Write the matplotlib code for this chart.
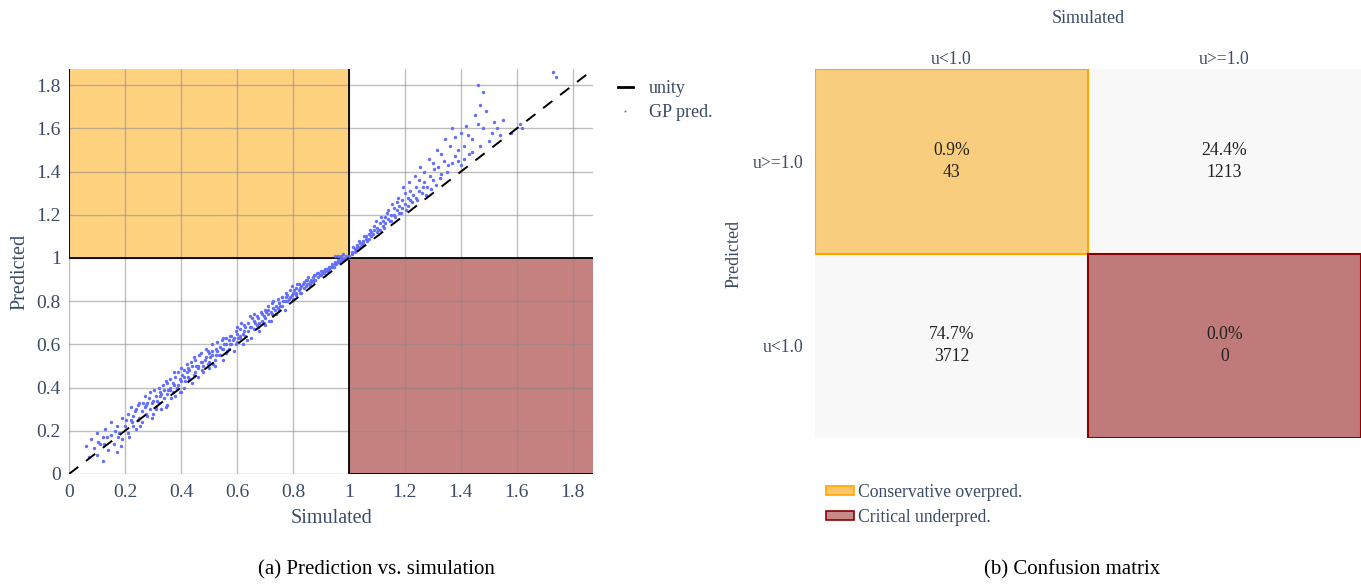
import matplotlib.pyplot as plt
from matplotlib.colors import ListedColormap
from matplotlib.lines import Line2D
from matplotlib.patches import Patch, Rectangle

plt.rcParams['font.family'] = ['Liberation Serif', 'DejaVu Serif']

# GP predictions vs simulated utilisation
sim = [0.06, 0.07, 0.08, 0.09, 0.10, 0.10, 0.11, 0.12, 0.12, 0.13, 0.14, 0.15, 0.15, 0.16, 0.17, 0.17, 0.18, 0.19, 0.19, 0.20,
       0.21, 0.21, 0.22, 0.22, 0.23, 0.23, 0.24, 0.24, 0.25, 0.25, 0.26, 0.26, 0.27, 0.27, 0.28, 0.28, 0.29, 0.29, 0.30, 0.30,
       0.31, 0.31, 0.32, 0.32, 0.33, 0.33, 0.34, 0.34, 0.35, 0.35, 0.35, 0.36, 0.36, 0.37, 0.37, 0.38, 0.38, 0.39, 0.39, 0.40,
       0.40, 0.40,
       0.41, 0.41, 0.42, 0.42, 0.43, 0.43, 0.44, 0.44, 0.45, 0.45, 0.46, 0.46, 0.47, 0.47, 0.48, 0.48, 0.49, 0.49, 0.50, 0.50,
       0.50, 0.51, 0.51, 0.52, 0.52, 0.53, 0.53, 0.54, 0.54, 0.55, 0.55, 0.55, 0.56, 0.56, 0.57, 0.57, 0.58, 0.58, 0.59, 0.59,
       0.60, 0.60, 0.60,
       0.61, 0.61, 0.62, 0.62, 0.63, 0.63, 0.64, 0.64, 0.65, 0.65, 0.66, 0.66, 0.67, 0.67, 0.68, 0.68, 0.69, 0.69, 0.70, 0.70,
       0.70, 0.71, 0.71, 0.72, 0.72, 0.73, 0.73, 0.74, 0.74, 0.75, 0.75, 0.76, 0.76, 0.77, 0.77, 0.78, 0.78, 0.79, 0.79, 0.80,
       0.80,
       0.81, 0.81, 0.82, 0.82, 0.83, 0.83, 0.84, 0.84, 0.85, 0.85, 0.86, 0.86, 0.87, 0.87, 0.88, 0.88, 0.89, 0.89, 0.90, 0.90,
       0.91, 0.91, 0.92, 0.92, 0.93, 0.93, 0.94, 0.94, 0.95, 0.95, 0.96, 0.96, 0.97, 0.97, 0.98, 0.98, 0.99, 0.99, 0.97, 0.96,
       0.98, 0.95,
       1.00, 1.01, 1.01, 1.02, 1.02, 1.03, 1.03, 1.04, 1.04, 1.05, 1.05, 1.06, 1.06, 1.07, 1.07, 1.08, 1.08, 1.09, 1.09, 1.10,
       1.10, 1.11, 1.11, 1.12, 1.12, 1.13, 1.13, 1.14, 1.14, 1.15, 1.15, 1.16, 1.16, 1.17, 1.17, 1.18, 1.18, 1.19, 1.19, 1.20,
       1.20, 1.21, 1.21, 1.22, 1.22, 1.23, 1.24, 1.24, 1.25, 1.25, 1.26, 1.27, 1.27, 1.28, 1.29, 1.30, 1.30, 1.31, 1.32, 1.33,
       1.33, 1.34, 1.35, 1.36, 1.37, 1.38, 1.38, 1.39, 1.40, 1.40, 1.41, 1.42, 1.43, 1.44, 1.45, 1.46, 1.47, 1.48, 1.49, 1.46,
       1.50, 1.52, 1.53, 1.55, 1.58, 1.61, 1.62, 1.73, 1.74,
       0.105, 0.135, 0.165, 0.185, 0.205, 0.215, 0.235, 0.245, 0.255, 0.265, 0.275, 0.285, 0.295, 0.305, 0.315, 0.325,
       0.335, 0.345, 0.355, 0.365, 0.375, 0.385, 0.395, 0.405, 0.415, 0.425, 0.435, 0.445, 0.455, 0.465, 0.475, 0.485,
       0.495, 0.505, 0.515, 0.525, 0.535, 0.545, 0.555, 0.565, 0.575, 0.585, 0.595, 0.605, 0.615, 0.625, 0.635, 0.645,
       0.655, 0.665, 0.675, 0.685, 0.695, 0.705, 0.715, 0.725, 0.735, 0.745, 0.755, 0.765, 0.775, 0.785, 0.795, 0.805,
       0.815, 0.825, 0.835, 0.845, 0.855, 0.865, 0.875, 0.885, 0.895, 0.905, 0.915, 0.925, 0.935, 0.945, 0.955, 0.965,
       0.975, 0.985, 0.995,
       1.015, 1.025, 1.035, 1.045, 1.055, 1.065, 1.075, 1.085, 1.095, 1.105, 1.115, 1.125, 1.135, 1.145, 1.155, 1.165,
       1.175, 1.185, 1.195, 1.205, 1.215, 1.225, 1.235, 1.245, 1.255, 1.265, 1.275, 1.285, 1.295, 1.305, 1.315, 1.325,
       1.345, 1.355, 1.37, 1.39, 1.41, 1.425, 1.44, 1.47, 1.48, 1.51, 1.54,
       0.125, 0.175, 0.225, 0.275, 0.325, 0.375, 0.425, 0.475, 0.525, 0.575, 0.625, 0.675, 0.725, 0.775, 0.825, 0.875,
       0.245, 0.295, 0.345, 0.395, 0.445, 0.495, 0.545, 0.595, 0.645, 0.695, 0.745, 0.795, 0.845,
       0.312, 0.362, 0.412, 0.462, 0.512, 0.562, 0.612, 0.662, 0.712, 0.762, 0.812, 0.862, 0.912]
pred = [0.13, 0.08, 0.16, 0.12, 0.19, 0.09, 0.14, 0.06, 0.17, 0.21, 0.11, 0.18, 0.24, 0.14, 0.22, 0.10, 0.19, 0.26, 0.16, 0.22,
        0.28, 0.19, 0.25, 0.31, 0.22, 0.27, 0.30, 0.21, 0.26, 0.33, 0.29, 0.24, 0.31, 0.36, 0.27, 0.33, 0.30, 0.38, 0.34, 0.28,
        0.36, 0.31, 0.40, 0.33, 0.37, 0.30, 0.39, 0.35, 0.42, 0.37, 0.32, 0.40, 0.44, 0.38, 0.42, 0.36, 0.45, 0.41, 0.47, 0.43,
        0.38, 0.49,
        0.45, 0.40, 0.47, 0.51, 0.44, 0.48, 0.50, 0.42, 0.47, 0.53, 0.49, 0.45, 0.52, 0.56, 0.50, 0.47, 0.54, 0.58, 0.52, 0.49,
        0.56, 0.55, 0.60, 0.53, 0.50, 0.57, 0.61, 0.55, 0.59, 0.53, 0.58, 0.63, 0.60, 0.56, 0.62, 0.58, 0.64, 0.60, 0.57, 0.63,
        0.65, 0.61, 0.68,
        0.63, 0.67, 0.65, 0.60, 0.68, 0.64, 0.70, 0.66, 0.68, 0.63, 0.71, 0.67, 0.73, 0.69, 0.70, 0.66, 0.74, 0.71, 0.76, 0.72,
        0.69, 0.74, 0.78, 0.75, 0.71, 0.77, 0.80, 0.78, 0.74, 0.79, 0.76, 0.82, 0.78, 0.80, 0.76, 0.83, 0.80, 0.82, 0.85, 0.84,
        0.81,
        0.86, 0.83, 0.85, 0.88, 0.87, 0.84, 0.89, 0.86, 0.88, 0.90, 0.89, 0.87, 0.91, 0.89, 0.92, 0.90, 0.93, 0.91, 0.94, 0.92,
        0.94, 0.93, 0.95, 0.94, 0.96, 0.95, 0.97, 0.96, 0.97, 0.98, 0.98, 0.99, 0.99, 1.00, 1.00, 0.99, 1.00, 1.01, 1.01, 1.01,
        1.02, 1.01,
        1.01, 1.02, 1.03, 1.04, 1.03, 1.05, 1.06, 1.07, 1.05, 1.08, 1.07, 1.09, 1.10, 1.11, 1.09, 1.12, 1.10, 1.13, 1.15, 1.14,
        1.12, 1.16, 1.13, 1.17, 1.15, 1.19, 1.16, 1.18, 1.22, 1.20, 1.17, 1.23, 1.20, 1.22, 1.26, 1.24, 1.21, 1.27, 1.23, 1.25,
        1.30, 1.28, 1.24, 1.31, 1.27, 1.29, 1.33, 1.28, 1.36, 1.31, 1.30, 1.35, 1.40, 1.33, 1.38, 1.44, 1.36, 1.34, 1.42, 1.39,
        1.48, 1.45, 1.40, 1.52, 1.44, 1.56, 1.47, 1.50, 1.43, 1.58, 1.52, 1.61, 1.48, 1.55, 1.66, 1.62, 1.71, 1.77, 1.68, 1.80,
        1.54, 1.63, 1.60, 1.64, 1.58, 1.62, 1.60, 1.86, 1.84,
        0.15, 0.17, 0.20, 0.13, 0.25, 0.17, 0.29, 0.25, 0.22, 0.33, 0.28, 0.35, 0.26, 0.39, 0.34, 0.36,
        0.41, 0.31, 0.39, 0.35, 0.47, 0.40, 0.44, 0.46, 0.43, 0.49, 0.52, 0.46, 0.50, 0.55, 0.48, 0.53,
        0.57, 0.54, 0.51, 0.58, 0.55, 0.62, 0.60, 0.57, 0.64, 0.62, 0.66, 0.63, 0.70, 0.66, 0.62, 0.68,
        0.72, 0.70, 0.68, 0.75, 0.73, 0.75, 0.71, 0.79, 0.76, 0.81, 0.78, 0.80, 0.84, 0.81, 0.83, 0.85,
        0.88, 0.86, 0.88, 0.87, 0.91, 0.90, 0.90, 0.93, 0.92, 0.93, 0.95, 0.94, 0.96, 0.96, 0.97, 0.98,
        0.99, 1.00, 1.00,
        1.05, 1.04, 1.08, 1.06, 1.10, 1.08, 1.13, 1.11, 1.17, 1.13, 1.19, 1.14, 1.21, 1.17, 1.25, 1.19,
        1.28, 1.21, 1.33, 1.22, 1.35, 1.26, 1.38, 1.27, 1.42, 1.33, 1.29, 1.46, 1.32, 1.41, 1.50, 1.37,
        1.55, 1.43, 1.60, 1.45, 1.46, 1.57, 1.49, 1.52, 1.60, 1.58, 1.57,
        0.14, 0.17, 0.24, 0.32, 0.38, 0.41, 0.45, 0.52, 0.55, 0.60, 0.69, 0.72, 0.74, 0.82, 0.84, 0.92,
        0.32, 0.33, 0.43, 0.38, 0.54, 0.51, 0.58, 0.60, 0.73, 0.70, 0.77, 0.87, 0.90,
        0.30, 0.39, 0.48, 0.50, 0.57, 0.63, 0.64, 0.74, 0.76, 0.82, 0.84, 0.88, 0.94]

ticks = [0, 0.2, 0.4, 0.6, 0.8, 1, 1.2, 1.4, 1.6, 1.8]
tick_labels = ['0', '0.2', '0.4', '0.6', '0.8', '1', '1.2', '1.4', '1.6', '1.8']
threshold = 1.0

# confusion matrix: rows = predicted, cols = simulated
pred_classes = ['u>=1.0', 'u<1.0']
sim_classes = ['u<1.0', 'u>=1.0']
counts = [[43, 1213], [3712, 0]]
cell_kind = [[1, 0], [0, 2]]  # 0 plain, 1 conservative, 2 critical

tick_col = '#3b4a66'
orange_fill = '#ffd280'
red_fill = '#c58080'

fig = plt.figure(figsize=(13.61, 5.86), dpi=100)
W, H = 1361, 586

# ---- (a) scatter ----
ax = fig.add_axes([69 / W, (H - 474) / H, (593 - 69) / W, (474 - 69) / H])
xmax, ymax = 1.872, 1.875
ax.fill_between([0, threshold], threshold, ymax, color=orange_fill, zorder=1, lw=0)
ax.fill_between([threshold, xmax], 0, threshold, color=red_fill, zorder=1, lw=0)
ax.add_patch(Rectangle((0, threshold), threshold, ymax, fill=False, ec='black', lw=1.3, zorder=2))
ax.add_patch(Rectangle((threshold, 0), xmax, threshold, fill=False, ec='black', lw=1.3, zorder=2))
ax.grid(True, color='#8a8a8a', alpha=0.55, lw=1)
ax.scatter(sim, pred, s=6, color='#636efa', lw=0, zorder=3, label='GP pred.')
ax.plot([0, 2], [0, 2], color='black', ls=(0, (6, 5)), lw=1.4, zorder=4, label='unity')
ax.set_xlim(0, xmax)
ax.set_ylim(0, ymax)
ax.set_xticks(ticks, tick_labels)
ax.set_yticks(ticks, tick_labels)
ax.tick_params(length=0, labelsize=14, labelcolor=tick_col, pad=6)
ax.tick_params(axis='x', pad=7)
for s in ax.spines.values():
    s.set_visible(False)
ax.set_xlabel('Simulated', fontsize=14.5, color=tick_col, labelpad=6)
ax.set_ylabel('Predicted', fontsize=14.5, color=tick_col, labelpad=5)

h_unity = Line2D([], [], color='black', lw=2)
h_gp = Line2D([], [], marker='o', ls='', ms=1.5, color='#636efa', mew=0)
fig.legend([h_unity, h_gp], ['unity', 'GP pred.'], loc='upper left',
           bbox_to_anchor=(602 / W, 1 - 64 / H), frameon=False, fontsize=13,
           labelcolor=tick_col, handlelength=0.8, handletextpad=0.9, labelspacing=0.4)

fig.text(376 / W, 1 - 570 / H, '(a) Prediction vs. simulation', ha='center', va='center', fontsize=15)

# ---- (b) confusion matrix ----
ax2 = fig.add_axes([815 / W, (H - 438) / H, (1361 - 815) / W, (438 - 69) / H])
cmap = ListedColormap(['#f8f8f8', '#f9cd7e', '#c07a7a'])
ax2.imshow(cell_kind, cmap=cmap, vmin=0, vmax=2, aspect='auto')
total = sum(sum(r) for r in counts)
for i in range(2):
    for j in range(2):
        pct = counts[i][j] / total * 100
        ax2.text(j, i, f'{pct:.1f}%\n{counts[i][j]}', ha='center', va='center',
                 fontsize=12.7, color='#222222', linespacing=1.4)
ax2.add_patch(Rectangle((-0.5, -0.5), 1, 1, fill=False, ec='#ffa500', lw=1.5))
ax2.add_patch(Rectangle((0.5, 0.5), 1, 1, fill=False, ec='#8b0000', lw=1.5))
ax2.set_xticks([0, 1], sim_classes)
ax2.set_yticks([0, 1], pred_classes)
ax2.xaxis.tick_top()
ax2.xaxis.set_label_position('top')
ax2.tick_params(length=0, labelsize=12.7, labelcolor=tick_col)
ax2.tick_params(axis='x', pad=1)
ax2.tick_params(axis='y', pad=8)
for s in ax2.spines.values():
    s.set_visible(False)
ax2.set_xlabel('Simulated', fontsize=13, color=tick_col, labelpad=20)
ax2.set_ylabel('Predicted', fontsize=13, color=tick_col, labelpad=8)

h_cons = Patch(facecolor='#fdc76a', edgecolor='#ffa500', lw=1.2)
h_crit = Patch(facecolor='#c98a8a', edgecolor='#8b0000', lw=1.2)
fig.legend([h_cons, h_crit], ['Conservative overpred.', 'Critical underpred.'], loc='upper left',
           bbox_to_anchor=(810 / W, 1 - 468 / H), frameon=False, fontsize=12.7,
           labelcolor=tick_col, handlelength=1.6, handleheight=0.35, handletextpad=0.2,
           labelspacing=0.45)

fig.text(1072 / W, 1 - 570 / H, '(b) Confusion matrix', ha='center', va='center', fontsize=15)

fig.savefig('out.png', dpi=100)
